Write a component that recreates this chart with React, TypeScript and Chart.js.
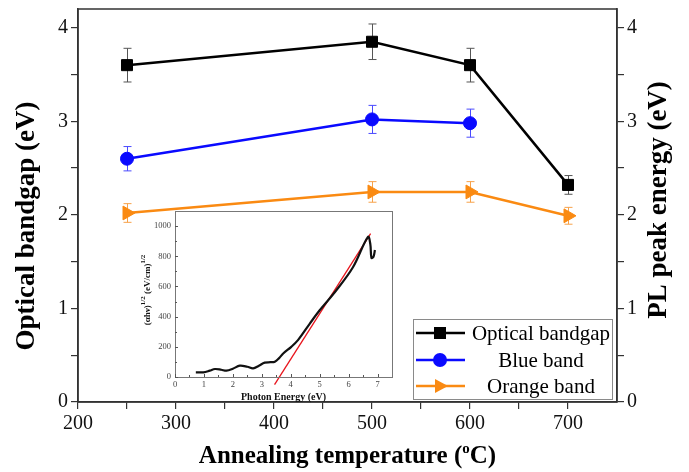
import React, { useEffect, useRef } from 'react';
import { Chart, registerables } from 'chart.js';
Chart.register(...registerables);

const SERIF = '"Liberation Serif", "Times New Roman", serif';

// Main chart data
const temps = [250, 500, 600, 700];
const opticalBandgap = [3.6, 3.85, 3.6, 2.32];
const opticalErr = [0.18, 0.19, 0.18, 0.1];
const blueTemps = [250, 500, 600];
const blueBand = [2.6, 3.02, 2.98];
const blueErr = [0.13, 0.15, 0.15];
const orangeTemps = [250, 500, 600, 700];
const orangeBand = [2.02, 2.245, 2.245, 1.99];
const orangeErr = [0.1, 0.11, 0.11, 0.09];
const xTickLabels = ['200', '300', '400', '500', '600', '700'];
const yTickLabels = ['0', '1', '2', '3', '4'];

// Inset data
const insetEnergy = [0.72, 0.98, 1.2, 1.38, 1.6, 1.78, 2.0, 2.24, 2.5, 2.7, 2.9, 3.1, 3.3, 3.45, 3.6, 3.74, 4.02, 4.25, 4.66, 5.0, 5.57, 6.15, 6.67, 6.75, 6.79, 6.86, 6.91];
const insetAbs = [31, 31, 42, 53, 48, 42, 55, 75, 68, 57, 75, 95, 98, 101, 125, 156, 200, 244, 354, 442, 573, 727, 929, 881, 789, 797, 842];
const fitEnergy = [3.44, 6.76];
const fitAbs = [-50, 950];

const BLACK = '#000000';
const BLUE = '#0a0aff';
const ORANGE = '#fa8a12';

const legendItems = [
  { label: 'Optical bandgap', color: BLACK, shape: 'rect' },
  { label: 'Blue band', color: BLUE, shape: 'circle' },
  { label: 'Orange band', color: ORANGE, shape: 'triangle' },
];

function drawMarker(ctx: CanvasRenderingContext2D, shape: string, x: number, y: number, color: string) {
  ctx.fillStyle = color;
  ctx.beginPath();
  if (shape === 'rect') {
    ctx.rect(x - 6, y - 6, 12, 12);
  } else if (shape === 'circle') {
    ctx.arc(x, y, 7, 0, Math.PI * 2);
  } else {
    ctx.moveTo(x + 8, y);
    ctx.lineTo(x - 5, y - 7);
    ctx.lineTo(x - 5, y + 7);
    ctx.closePath();
  }
  ctx.fill();
}

const mainPlugin = {
  id: 'mainDecor',
  beforeDatasetsDraw(chart: any) {
    const ctx = chart.ctx;
    const xs = chart.scales.x;
    const ys = chart.scales.y;
    const sets: any[] = [
      [temps, opticalBandgap, opticalErr, '#555555'],
      [blueTemps, blueBand, blueErr, '#4a4aff'],
      [orangeTemps, orangeBand, orangeErr, '#f7a24a'],
    ];
    ctx.save();
    ctx.lineWidth = 1;
    for (const [tx, vy, ve, col] of sets) {
      ctx.strokeStyle = col;
      tx.forEach((t: number, i: number) => {
        const x = Math.round(xs.getPixelForValue(t)) + 0.5;
        const y1 = ys.getPixelForValue(vy[i] + ve[i]);
        const y2 = ys.getPixelForValue(vy[i] - ve[i]);
        ctx.beginPath();
        ctx.moveTo(x, y1); ctx.lineTo(x, y2);
        ctx.moveTo(x - 4, y1); ctx.lineTo(x + 4, y1);
        ctx.moveTo(x - 4, y2); ctx.lineTo(x + 4, y2);
        ctx.stroke();
      });
    }
    ctx.restore();
  },
  afterDraw(chart: any) {
    const ctx: CanvasRenderingContext2D = chart.ctx;
    const a = chart.chartArea;
    ctx.save();
    ctx.strokeStyle = '#333';
    ctx.lineWidth = 1.5;
    ctx.strokeRect(a.left, a.top, a.right - a.left, a.bottom - a.top);

    // axis titles
    ctx.fillStyle = '#000';
    ctx.font = `bold 27px ${SERIF}`;
    ctx.textAlign = 'center';
    ctx.textBaseline = 'alphabetic';
    ctx.save(); ctx.translate(34, 226); ctx.rotate(-Math.PI / 2); ctx.fillText('Optical bandgap (eV)', 0, 0); ctx.restore();
    ctx.save(); ctx.translate(666, 200); ctx.rotate(-Math.PI / 2); ctx.fillText('PL peak energy (eV)', 0, 0); ctx.restore();

    // x title with superscript
    const p1 = 'Annealing temperature (';
    const sup = 'o';
    const p2 = 'C)';
    const big = `bold 25px ${SERIF}`;
    const small = `bold 15px ${SERIF}`;
    ctx.font = big; const w1 = ctx.measureText(p1).width; const w3 = ctx.measureText(p2).width;
    ctx.font = small; const w2 = ctx.measureText(sup).width;
    const total = w1 + w2 + w3;
    let sx = (a.left + a.right) / 2 - total / 2;
    const by = 463;
    ctx.textAlign = 'left';
    ctx.font = big; ctx.fillText(p1, sx, by); sx += w1;
    ctx.font = small; ctx.fillText(sup, sx, by - 10); sx += w2;
    ctx.font = big; ctx.fillText(p2, sx, by);

    // legend
    const lx = 413, ly = 319, lw = 199, lh = 80;
    ctx.fillStyle = '#fff';
    ctx.fillRect(lx, ly, lw, lh);
    ctx.strokeStyle = '#8a8a8a';
    ctx.lineWidth = 1;
    ctx.strokeRect(lx + 0.5, ly + 0.5, lw, lh);
    const rowsY = [333, 360, 386];
    legendItems.forEach((it, i) => {
      const y = rowsY[i];
      ctx.strokeStyle = it.color;
      ctx.lineWidth = 2.5;
      ctx.beginPath(); ctx.moveTo(416, y); ctx.lineTo(465, y); ctx.stroke();
      drawMarker(ctx, it.shape, 440, y, it.color);
      ctx.fillStyle = '#000';
      ctx.font = `21px ${SERIF}`;
      ctx.textAlign = 'center';
      ctx.textBaseline = 'middle';
      ctx.fillText(it.label, 541, y + 1);
    });
    ctx.restore();
  },
};

const insetPlugin = {
  id: 'insetDecor',
  afterDraw(chart: any) {
    const ctx: CanvasRenderingContext2D = chart.ctx;
    const a = chart.chartArea;
    const xs = chart.scales.x;
    const ys = chart.scales.y;
    ctx.save();
    ctx.strokeStyle = '#777';
    ctx.lineWidth = 1;
    ctx.strokeRect(Math.round(a.left) + 0.5, Math.round(a.top) + 0.5, Math.round(a.right - a.left), Math.round(a.bottom - a.top));
    // inward ticks
    ctx.strokeStyle = '#555';
    ctx.beginPath();
    xs.ticks.forEach((t: any) => {
      const x = Math.round(xs.getPixelForValue(t.value)) + 0.5;
      const len = Number.isInteger(t.value) ? 3 : 2;
      ctx.moveTo(x, a.bottom); ctx.lineTo(x, a.bottom - len);
    });
    ys.ticks.forEach((t: any) => {
      const y = Math.round(ys.getPixelForValue(t.value)) + 0.5;
      const len = t.value % 200 === 0 ? 3 : 2;
      ctx.moveTo(a.left, y); ctx.lineTo(a.left + len, y);
    });
    ctx.stroke();

    // x title
    ctx.fillStyle = '#111';
    ctx.font = `bold 10px ${SERIF}`;
    ctx.textAlign = 'center';
    ctx.textBaseline = 'alphabetic';
    ctx.fillText('Photon Energy (eV)', (a.left + a.right) / 2, 195);

    // y title with superscripts
    const parts = [
      { t: '(αhν)', f: `bold 9px ${SERIF}`, dy: 0 },
      { t: '1/2', f: `bold 7px ${SERIF}`, dy: -5 },
      { t: ' (eV/cm)', f: `bold 9px ${SERIF}`, dy: 0 },
      { t: '1/2', f: `bold 7px ${SERIF}`, dy: -5 },
    ];
    let tw = 0;
    parts.forEach((p) => { ctx.font = p.f; tw += ctx.measureText(p.t).width; });
    ctx.save();
    ctx.translate(25, 85);
    ctx.rotate(-Math.PI / 2);
    ctx.textAlign = 'left';
    let px = -tw / 2;
    parts.forEach((p) => {
      ctx.font = p.f;
      ctx.fillText(p.t, px, p.dy);
      px += ctx.measureText(p.t).width;
    });
    ctx.restore();
    ctx.restore();
  },
};

const zeroVPad = (s: any) => { s.paddingTop = 0; s.paddingBottom = 0; };
const zeroHPad = (s: any) => { s.paddingLeft = 0; s.paddingRight = 0; };

export default function App() {
  const mainRef = useRef<HTMLCanvasElement | null>(null);
  const insetRef = useRef<HTMLCanvasElement | null>(null);

  useEffect(() => {
    Chart.defaults.font.family = SERIF;
    const tickFont = { family: SERIF, size: 20 };
    const yScaleBase = {
      type: 'linear' as const,
      min: 0,
      max: 4.2,
      ticks: {
        stepSize: 0.5,
        includeBounds: false,
        autoSkip: false,
        color: '#111',
        font: tickFont,
        padding: 3,
        callback: (v: any) => {
          const s = String(v);
          return yTickLabels.includes(s) ? s : '';
        },
      },
      grid: { display: true, drawOnChartArea: false, drawTicks: true, tickLength: 7, color: '#333', lineWidth: 1.2 },
      border: { display: true, color: '#333', width: 1.5 },
      afterBuildTicks: (s: any) => { s.ticks = s.ticks.filter((t: any) => t.value <= 4.001); },
    };

    const main = new Chart(mainRef.current!, {
      type: 'line',
      data: {
        datasets: [
          {
            label: 'Optical bandgap',
            data: temps.map((t, i) => ({ x: t, y: opticalBandgap[i] })),
            borderColor: BLACK,
            backgroundColor: BLACK,
            borderWidth: 2.5,
            pointStyle: 'rect',
            pointRadius: 7.8,
            pointBorderWidth: 1,
            yAxisID: 'y',
          },
          {
            label: 'Blue band',
            data: blueTemps.map((t, i) => ({ x: t, y: blueBand[i] })),
            borderColor: BLUE,
            backgroundColor: BLUE,
            borderWidth: 2.5,
            pointStyle: 'circle',
            pointRadius: 6.5,
            pointBorderWidth: 1,
            yAxisID: 'y',
          },
          {
            label: 'Orange band',
            data: orangeTemps.map((t, i) => ({ x: t, y: orangeBand[i] })),
            borderColor: ORANGE,
            backgroundColor: ORANGE,
            borderWidth: 2.5,
            pointStyle: 'triangle',
            pointRotation: 90,
            pointRadius: 8,
            pointBorderWidth: 1,
            yAxisID: 'y',
          },
        ],
      },
      options: {
        responsive: false,
        animation: false,
        layout: { padding: { top: 7, left: 0, right: 0, bottom: 0 } },
        plugins: { legend: { display: false }, tooltip: { enabled: false }, title: { display: false } },
        scales: {
          x: {
            type: 'linear',
            min: 200,
            max: 750,
            ticks: {
              stepSize: 50,
              includeBounds: false,
              autoSkip: false,
              maxRotation: 0,
              color: '#111',
              font: tickFont,
              padding: 3,
              callback: (v: any) => {
                const s = String(v);
                return xTickLabels.includes(s) ? s : '';
              },
            },
            grid: { display: true, drawOnChartArea: false, drawTicks: true, tickLength: 7, color: '#333', lineWidth: 1.2 },
            border: { display: true, color: '#333', width: 1.5 },
            afterBuildTicks: (s: any) => { s.ticks = s.ticks.filter((t: any) => t.value <= 700.001); },
            afterFit: (s: any) => { s.height = 70; zeroHPad(s); },
          },
          y: { ...yScaleBase, position: 'left', afterFit: (s: any) => { s.width = 78; zeroVPad(s); } },
          y2: { ...yScaleBase, position: 'right', afterFit: (s: any) => { s.width = 72; zeroVPad(s); } },
        } as any,
      },
      plugins: [mainPlugin],
    });

    const insetTickFont = { family: SERIF, size: 8.5 };
    const inset = new Chart(insetRef.current!, {
      type: 'line',
      data: {
        datasets: [
          {
            label: 'spectrum',
            data: insetEnergy.map((e, i) => ({ x: e, y: insetAbs[i] })),
            borderColor: '#111',
            borderWidth: 2.2,
            pointRadius: 0,
            tension: 0.35,
          },
          {
            label: 'fit',
            data: fitEnergy.map((e, i) => ({ x: e, y: fitAbs[i] })),
            borderColor: '#e8141c',
            borderWidth: 1.3,
            pointRadius: 0,
            clip: false as any,
          },
        ],
      },
      options: {
        responsive: false,
        animation: false,
        layout: { padding: { top: 6, right: 8, left: 0, bottom: 0 } },
        plugins: { legend: { display: false }, tooltip: { enabled: false } },
        scales: {
          x: {
            type: 'linear',
            min: 0,
            max: 7.5,
            ticks: {
              stepSize: 0.5,
              includeBounds: false,
              autoSkip: false,
              maxRotation: 0,
              color: '#444',
              font: insetTickFont,
              padding: 3,
              callback: (v: any) => (Number.isInteger(v) ? String(v) : ''),
            },
            grid: { display: false, drawTicks: false },
            border: { display: false },
            afterBuildTicks: (s: any) => { s.ticks = s.ticks.filter((t: any) => t.value <= 7.001); },
            afterFit: (s: any) => { s.height = 28; zeroHPad(s); },
          },
          y: {
            type: 'linear',
            min: 0,
            max: 1100,
            ticks: {
              stepSize: 100,
              includeBounds: false,
              autoSkip: false,
              color: '#444',
              font: insetTickFont,
              padding: 4,
              callback: (v: any) => (v % 200 === 0 ? String(v) : ''),
            },
            grid: { display: false, drawTicks: false },
            border: { display: false },
            afterBuildTicks: (s: any) => { s.ticks = s.ticks.filter((t: any) => t.value <= 1000.001); },
            afterFit: (s: any) => { s.width = 50; zeroVPad(s); },
          },
        } as any,
      },
      plugins: [insetPlugin],
    });

    return () => {
      main.destroy();
      inset.destroy();
    };
  }, []);

  return (
    <div style={{ position: 'fixed', left: 0, top: 0, width: 689, height: 472, background: '#fff' }}>
      <canvas ref={mainRef} width={689} height={472} style={{ position: 'absolute', left: 0, top: 0, width: 689, height: 472 }} />
      <canvas ref={insetRef} width={275} height={200} style={{ position: 'absolute', left: 125, top: 205, width: 275, height: 200 }} />
    </div>
  );
}
